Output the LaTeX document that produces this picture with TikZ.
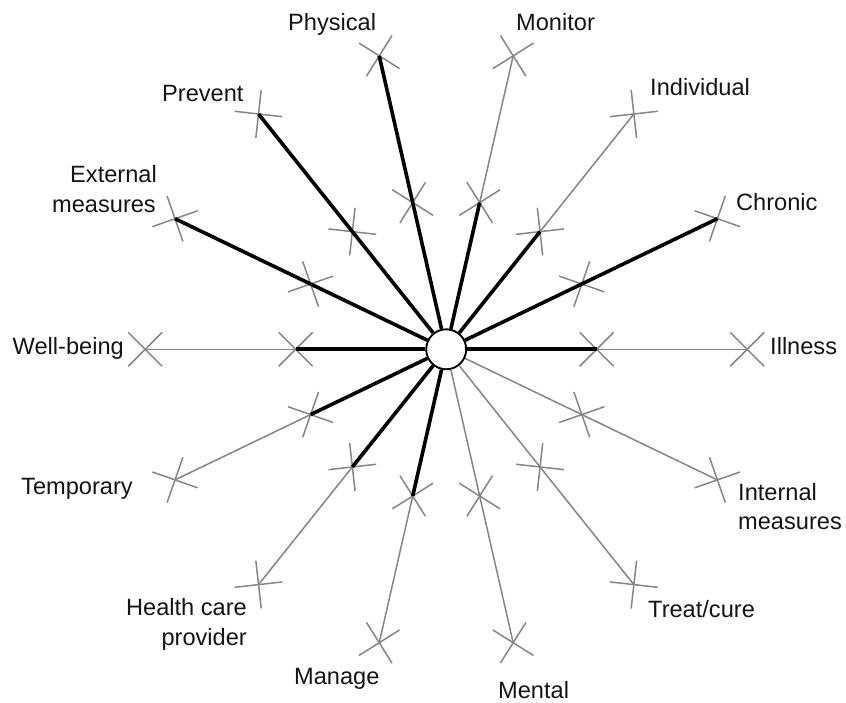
\documentclass[tikz,border=0pt]{standalone}
\usepackage{fontspec}
\setmainfont{Liberation Sans}
\usetikzlibrary{calc}
\begin{document}
\begin{tikzpicture}[x=1pt,y=1pt,
  hubstyle/.style={circle, draw=black, fill=white, line width=1.9pt, minimum size=40pt, inner sep=0pt},
  spoke/.style={draw=black!48, line width=1.5pt},
  heavy/.style={draw=black, line width=3.6pt},
  xmark/.style={draw=black!48, line width=1.5pt},
  lbl/.style={font=\fontsize{23.6}{30}\selectfont, text=black!92, inner sep=0pt}]
\useasboundingbox (0,0) rectangle (846,702);

% centre and the two rings of marks
\coordinate (o) at (446.2,352.7);
\foreach \k [evaluate=\k as \a using \k*360/14] in {0,...,13} {
  \coordinate (m\k) at ($(o)+(\a:150.5)$);
  \coordinate (e\k) at ($(o)+(\a:301)$);
}
\node[hubstyle] (hub) at (o) {};

% thin spokes
\foreach \k in {0,...,13} \draw[spoke] (hub) -- (e\k);

% cross marks, turned with their spoke
\foreach \k [evaluate=\k as \a using \k*360/14] in {0,...,13} {
  \draw[xmark] (m\k) ++(\a+45:24) -- ++(\a+225:48);
  \draw[xmark] (m\k) ++(\a-45:24) -- ++(\a+135:48);
  \draw[xmark] (e\k) ++(\a+45:24) -- ++(\a+225:48);
  \draw[xmark] (e\k) ++(\a-45:24) -- ++(\a+135:48);
}

% heavy segments
\foreach \k in {1,4,5,6} \draw[heavy] (hub) -- (e\k);
\foreach \k in {0,2,3,7,8,9,10} \draw[heavy] (hub) -- (m\k);

% labels
\node[lbl, anchor=base west] (tIll) at (770,347) {Illness};
\node[lbl, anchor=base west] (tChr) at (736,491) {Chronic};
\node[lbl, anchor=base west] (tInd) at (650,606) {Individual};
\node[lbl, anchor=base west] (tMon) at (516,671) {Monitor};
\node[lbl, anchor=base west] (tPhy) at (288,671) {Physical};
\node[lbl, anchor=base west] (tPre) at (162,600) {Prevent};
\node[lbl, anchor=base east] (tExt1) at (157,519) {External};
\node[lbl, anchor=base east] (tExt2) at (156,489) {measures};
\node[lbl, anchor=base east] (tWel) at (124,347) {Well-being};
\node[lbl, anchor=base west] (tTem) at (21,207) {Temporary};
\node[lbl, anchor=base east] (tHea1) at (247,87) {Health care};
\node[lbl, anchor=base east] (tHea2) at (247,57) {provider};
\node[lbl, anchor=base west] (tMan) at (294,18) {Manage};
\node[lbl, anchor=base west] (tMen) at (498,4) {Mental};
\node[lbl, anchor=base west] (tTre) at (648,85) {Treat/cure};
\node[lbl, anchor=base west] (tInt1) at (738,201) {Internal};
\node[lbl, anchor=base west] (tInt2) at (738,172) {measures};
\end{tikzpicture}
\end{document}
